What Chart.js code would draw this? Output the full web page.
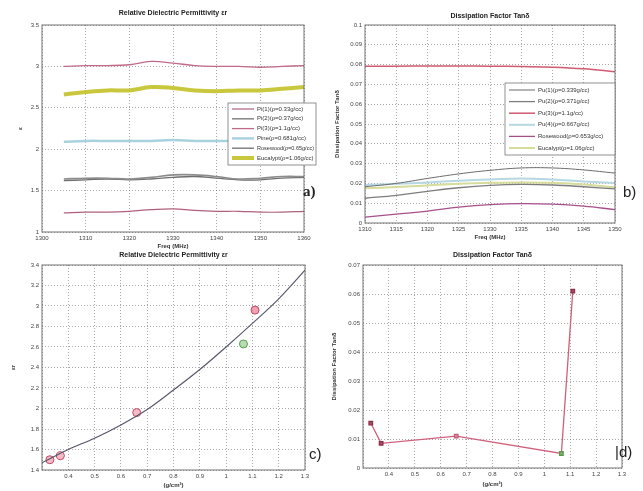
<!DOCTYPE html>
<html>
<head>
<meta charset="utf-8">
<script src="https://cdn.jsdelivr.net/npm/chart.js@4.4.0/dist/chart.umd.min.js"></script>
<style>
body { margin:0; background:#fff; width:643px; height:491px; overflow:hidden; position:relative; font-family:"Liberation Sans", Arial, sans-serif; }
.box { position:absolute; }
.tag { position:absolute; font-size:15px; color:#222; }
</style>
</head>
<body>
<div class="box" style="left:0;top:0;width:322px;height:255px"><canvas id="chartA"></canvas></div>
<div class="box" style="left:322px;top:0;width:321px;height:250px"><canvas id="chartB"></canvas></div>
<div class="box" style="left:0;top:250px;width:322px;height:241px"><canvas id="chartC"></canvas></div>
<div class="box" style="left:322px;top:250px;width:321px;height:241px"><canvas id="chartD"></canvas></div>
<div class="tag" style="left:303px;top:183px;font-family:'Liberation Serif',serif;font-weight:bold">a)</div>
<div class="tag" style="left:623px;top:183px">b)</div>
<div class="tag" style="left:309px;top:445px">c)</div>
<div class="tag" style="left:615px;top:443px">|d)</div>
<script>
// panel a - permittivity vs frequency
const freqA = [1305, 1310, 1315, 1320, 1325, 1330, 1335, 1340, 1345, 1350, 1355, 1360];
const pi1A = [1.23, 1.24, 1.24, 1.25, 1.27, 1.28, 1.26, 1.25, 1.25, 1.24, 1.24, 1.25];
const pi2A = [1.64, 1.65, 1.65, 1.64, 1.66, 1.69, 1.69, 1.67, 1.64, 1.65, 1.67, 1.67];
const pi3A = [3.0, 3.01, 3.01, 3.02, 3.06, 3.04, 3.01, 3.0, 3.0, 2.99, 3.0, 3.01];
const pineA = [2.09, 2.1, 2.1, 2.1, 2.1, 2.11, 2.1, 2.1, 2.1, 2.09, 2.1, 2.1];
const roseA = [1.62, 1.63, 1.64, 1.63, 1.64, 1.66, 1.67, 1.65, 1.63, 1.63, 1.65, 1.66];
const eucaA = [2.66, 2.69, 2.71, 2.71, 2.75, 2.74, 2.71, 2.7, 2.71, 2.71, 2.73, 2.75];

// panel b - tan delta vs frequency
const freqB = [1310, 1315, 1320, 1325, 1330, 1335, 1340, 1345, 1350];
const pu1B = [0.0183, 0.02, 0.0225, 0.0248, 0.0266, 0.0278, 0.0278, 0.0268, 0.0252];
const pu2B = [0.0125, 0.014, 0.016, 0.0178, 0.019, 0.0195, 0.0192, 0.0183, 0.0172];
const pu3B = [0.0792, 0.0792, 0.0793, 0.0793, 0.0792, 0.079, 0.0787, 0.0779, 0.0764];
const pu4B = [0.0192, 0.0198, 0.0205, 0.0213, 0.022, 0.0225, 0.022, 0.021, 0.0202];
const roseB = [0.003, 0.0045, 0.006, 0.008, 0.0093, 0.0098, 0.0095, 0.0085, 0.0068];
const eucaB = [0.0175, 0.0182, 0.019, 0.0198, 0.0203, 0.0205, 0.0203, 0.0195, 0.018];

// panels c, d - values against density
const curveRho = [0.3, 0.4, 0.5, 0.6, 0.7, 0.8, 0.9, 1.0, 1.1, 1.2, 1.3];
const curveEps = [1.47, 1.6, 1.71, 1.84, 1.99, 2.18, 2.38, 2.6, 2.83, 3.07, 3.35];
const sampleRho = [0.33, 0.37, 0.66, 1.066, 1.11];
const sampleEps = [1.5, 1.54, 1.96, 2.63, 2.96];
const sampleTan = [0.0155, 0.0085, 0.011, 0.005, 0.061];

const legendA = ["Pi(1)(\u03c1=0.33g/cc)", "Pi(2)(\u03c1=0.37g/cc)", "Pi(3)(\u03c1=1.1g/cc)", "Pine(\u03c1=0.681g/cc)", "Rosewood(\u03c1=0.65g/cc)", "Eucalypt(\u03c1=1.06g/cc)"];
const legendB = ["Pu(1)(\u03c1=0.339g/cc)", "Pu(2)(\u03c1=0.371g/cc)", "Pu(3)(\u03c1=1.1g/cc)", "Pu(4)(\u03c1=0.667g/cc)", "Rosewood(\u03c1=0.653g/cc)", "Eucalypt(\u03c1=1.06g/cc)"];

function pts(xs, ys) {
    return xs.map((x, i) => ({ x: x, y: ys[i] }));
}

// box round plot + title above it
const frame = {
    id: 'frame',
    afterDraw(chart, args, opts) {
        const a = chart.chartArea, ctx = chart.ctx;
        ctx.save();
        ctx.strokeStyle = '#666';
        ctx.lineWidth = 0.9;
        ctx.strokeRect(a.left, a.top, a.right - a.left, a.bottom - a.top);
        ctx.fillStyle = '#222';
        ctx.font = 'bold 7px "Liberation Sans"';
        ctx.textAlign = 'center';
        ctx.textBaseline = 'middle';
        ctx.fillText(opts.text, (a.left + a.right) / 2 + (opts.dx || 0), a.top - (opts.dy || 9));
        ctx.restore();
    }
};

// legend box inside the plot
const boxLegend = {
    id: 'boxLegend',
    afterDraw(chart, args, o) {
        if (!o.w) return;
        const ctx = chart.ctx;
        ctx.save();
        ctx.fillStyle = '#fff';
        ctx.fillRect(o.x, o.y, o.w, o.h);
        ctx.strokeStyle = '#777';
        ctx.lineWidth = 0.8;
        ctx.strokeRect(o.x, o.y, o.w, o.h);
        ctx.font = '6px "Liberation Sans"';
        ctx.textBaseline = 'middle';
        chart.data.datasets.forEach((ds, i) => {
            const y = o.y + o.first + i * o.row;
            ctx.strokeStyle = ds.borderColor;
            ctx.lineWidth = ds.borderWidth;
            ctx.beginPath();
            ctx.moveTo(o.x + 4, y);
            ctx.lineTo(o.x + 4 + o.sw, y);
            ctx.stroke();
            ctx.fillStyle = '#333';
            ctx.fillText(ds.label, o.x + 7 + o.sw, y, o.w - o.sw - 9);
        });
        ctx.restore();
    }
};

function axes(xr, yr, xTitle, yTitle, yw, xh, fmtX, fmtY) {
    const tickFont = { family: 'Liberation Sans', size: 6 };
    const grid = { color: '#6e6e6e', lineWidth: 0.6, drawTicks: false };
    const border = { display: false, dash: [1, 2] };
    return {
        x: {
            type: 'linear', min: xr[0], max: xr[1],
            ticks: { stepSize: xr[2], font: tickFont, color: '#444', padding: 3, maxRotation: 0, autoSkip: false, callback: fmtX },
            grid: grid, border: border,
            title: { display: true, text: xTitle, font: { family: 'Liberation Sans', size: 6, weight: 'bold' }, color: '#333', padding: 0 },
            afterFit: s => { s.height = xh; }
        },
        y: {
            min: yr[0], max: yr[1],
            ticks: { stepSize: yr[2], font: tickFont, color: '#444', padding: 3, autoSkip: false, callback: fmtY },
            grid: grid, border: border,
            title: { display: true, text: yTitle, font: { family: 'Liberation Sans', size: 6, weight: 'bold' }, color: '#333', padding: 0 },
            afterFit: s => { s.width = yw; }
        }
    };
}

function line(label, xs, ys, color, width) {
    return { label: label, data: pts(xs, ys), borderColor: color, backgroundColor: color, borderWidth: width, pointRadius: 0, tension: 0.4, fill: false };
}

function makeChart(id, datasets, scales, padding, frameOpts, legendOpts) {
    return new Chart(document.getElementById(id), {
        type: 'line',
        data: { datasets: datasets },
        options: {
            responsive: true, maintainAspectRatio: false, animation: false,
            layout: { padding: padding },
            scales: scales,
            plugins: { legend: { display: false }, tooltip: { enabled: false }, frame: frameOpts, boxLegend: legendOpts || {} }
        },
        plugins: [frame, boxLegend]
    });
}

const fmt1 = v => String(Math.round(v * 10) / 10);
const fmt2 = v => String(Math.round(v * 100) / 100);
const fmtRho = v => (Math.abs(v - 0.3) < 1e-6 ? '' : String(Math.round(v * 10) / 10));

makeChart('chartA', [
    line(legendA[0], freqA, pi1A, '#b0607c', 1.2),
    line(legendA[1], freqA, pi2A, '#8c8c8c', 1.6),
    line(legendA[2], freqA, pi3A, '#c06a84', 1.3),
    line(legendA[3], freqA, pineA, '#a9d2df', 2.5),
    line(legendA[4], freqA, roseA, '#6f6f72', 1.3),
    line(legendA[5], freqA, eucaA, '#c9c83c', 4)
], axes([1300, 1360, 10], [1, 3.5, 0.5], 'Freq (MHz)', '\u03b5', 25, 18, v => String(v), fmt1),
    { top: 25, right: 18, bottom: 5, left: 17 },
    { text: 'Relative Dielectric Permittivity \u03b5r', dy: 12 },
    { x: 228, y: 103, w: 88, h: 62, first: 6, row: 9.8, sw: 22 });

makeChart('chartB', [
    line(legendB[0], freqB, pu1B, '#6a6a6e', 1),
    line(legendB[1], freqB, pu2B, '#7d7d80', 1.3),
    line(legendB[2], freqB, pu3B, '#d05a70', 1.5),
    line(legendB[3], freqB, pu4B, '#b5d8e2', 2),
    line(legendB[4], freqB, roseB, '#a6508a', 1.3),
    line(legendB[5], freqB, eucaB, '#d6dc9a', 2)
], axes([1310, 1350, 5], [0, 0.1, 0.01], 'Freq (MHz)', 'Dissipation Factor Tan\u03b4', 31, 18, v => String(v), fmt2),
    { top: 25, right: 28, bottom: 9, left: 12 },
    { text: 'Dissipation Factor Tan\u03b4', dy: 9 },
    { x: 183, y: 83, w: 110, h: 72, first: 7, row: 11.6, sw: 26 });

makeChart('chartC', [
    Object.assign(line('fit', curveRho, curveEps, '#55556a', 1.1), { cubicInterpolationMode: 'monotone' }),
    {
        label: 'samples', data: pts(sampleRho, sampleEps), showLine: false,
        pointRadius: 4, borderWidth: 1,
        backgroundColor: ['rgba(236,140,160,0.6)', 'rgba(236,140,160,0.6)', 'rgba(236,140,160,0.6)', 'rgba(150,210,140,0.7)', 'rgba(236,120,145,0.7)'],
        pointBorderColor: ['#c04a64', '#c04a64', '#c04a64', '#5a9a50', '#c04a64']
    }
], axes([0.3, 1.3, 0.1], [1.4, 3.4, 0.2], '(g/cm\u00b3)', '\u03b5r', 32, 19, fmtRho, fmt1),
    { top: 15, right: 17, bottom: 2, left: 10 },
    { text: 'Relative Dielectric Permittivity \u03b5r', dy: 10 });

makeChart('chartD', [
    {
        label: 'tan', data: pts(sampleRho, sampleTan), borderColor: '#d0607a', borderWidth: 1.3, tension: 0,
        pointStyle: 'rect', pointRadius: 2.5,
        pointBackgroundColor: ['#b04a62', '#b04a62', '#d88a9c', '#7cc070', '#b04a62'],
        pointBorderColor: ['#8a3048', '#8a3048', '#c0607a', '#5a9a50', '#8a3048']
    }
], axes([0.3, 1.3, 0.1], [0, 0.07, 0.01], '(g/cm\u00b3)', 'Dissipation Factor Tan\u03b4', 32, 20, fmtRho, fmt2),
    { top: 15, right: 21, bottom: 3, left: 9 },
    { text: 'Dissipation Factor Tan\u03b4', dy: 10 });
</script>
</body>
</html>
